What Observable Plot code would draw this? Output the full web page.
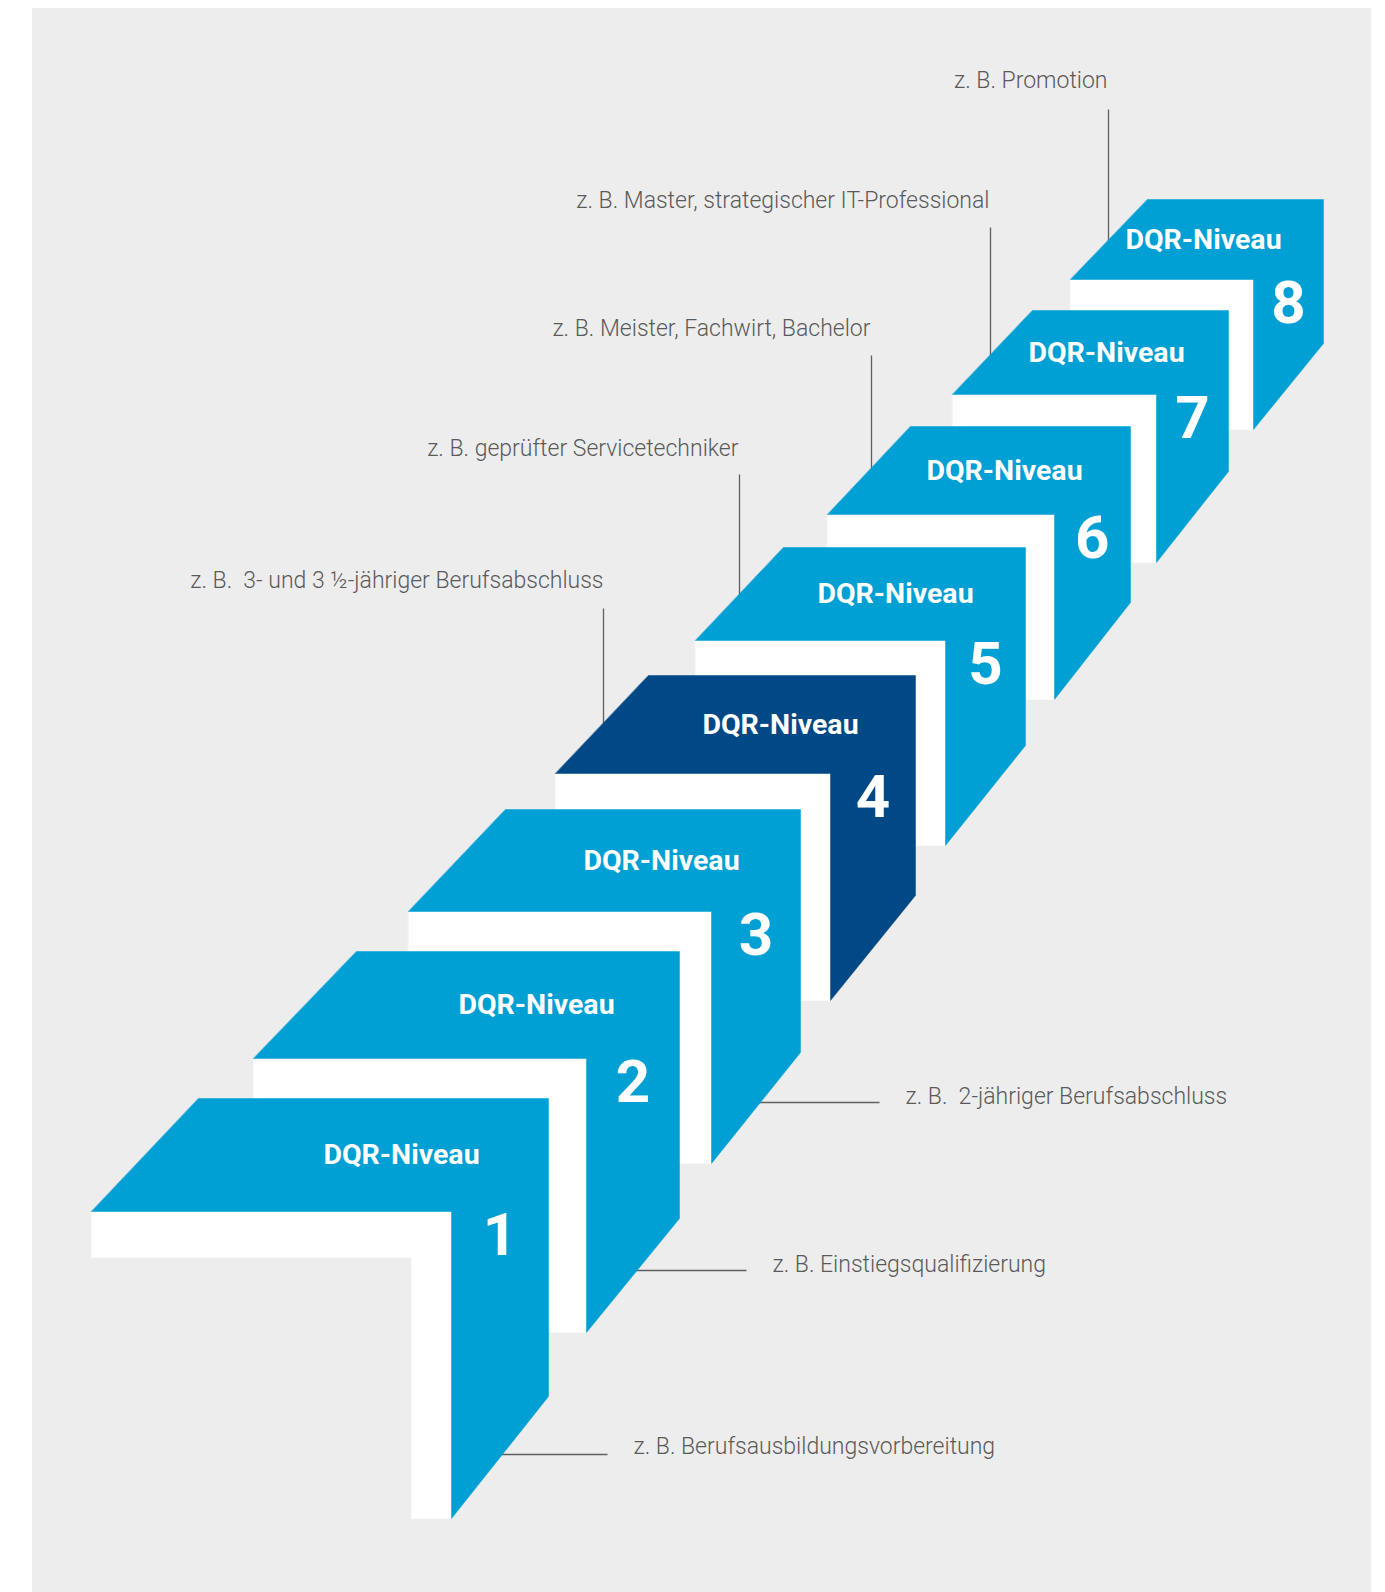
<!DOCTYPE html>
<html>
<head>
<meta charset="utf-8">
<script src="https://cdn.jsdelivr.net/npm/d3@7"></script>
<script src="https://cdn.jsdelivr.net/npm/@observablehq/plot@0.6"></script>
<style>
  html, body { margin: 0; padding: 0; background: #ffffff; }
  #wrap { position: relative; width: 1385px; height: 1592px; overflow: hidden; }
  #bg { position: absolute; left: 32px; top: 8px; width: 1339px; height: 1584px; background: #ededed; }
  #chart { position: absolute; left: 0; top: 0; }
  #chart svg text { white-space: pre; }
</style>
</head>
<body>
<div id="wrap"><div id="bg"></div><div id="chart"></div></div>
<script>
// ---- data: DQR levels (step 1 = front/bottom, step 8 = back/top) ----
const levels     = [1, 2, 3, 4, 5, 6, 7, 8];
const levelTitle = "DQR-Niveau";
// step geometry (pixels)
const xLeft      = [91, 253, 408, 555, 695, 827, 952, 1070];
const xTopLeft   = [198, 356, 505, 648, 783, 910, 1032, 1147];
const xInner     = [451, 586, 711, 830, 945, 1054, 1156, 1253];
const xRight     = [548, 679, 800, 915, 1025, 1130, 1228, 1323];
const yTop       = [1098, 951, 809, 675, 547, 426, 310, 199];
const yFront     = [1211, 1058, 911, 773, 640, 514, 394, 279];
const yCorner    = [1396, 1218, 1052, 895, 745, 602, 471, 343];
const yBottom    = [1518, 1332, 1163, 1000, 845, 699, 562, 429];
const highlight  = 4;

// qualification examples
const qualText = [
  "z. B. Berufsausbildungsvorbereitung",
  "z. B. Einstiegsqualifizierung",
  "z. B.  2-jähriger Berufsabschluss",
  "z. B.  3- und 3 \u00BD-jähriger Berufsabschluss",
  "z. B. geprüfter Servicetechniker",
  "z. B. Meister, Fachwirt, Bachelor",
  "z. B. Master, strategischer IT-Professional",
  "z. B. Promotion"
];
const qualSide   = ["right", "right", "right", "top", "top", "top", "top", "top"];
const qualX      = [633, 772, 905, 603, 738, 870, 989, 1107];
const qualY      = [1446, 1264, 1096, 580, 448, 328, 200, 80];
// leader lines: start point (near label) and end point (under the step)
const leadX1     = [607, 746, 879, 603, 739, 871, 990, 1108];
const leadY1     = [1454, 1270, 1102, 608, 474, 355, 227, 109];
const leadX2     = [490, 620, 740, 603, 739, 871, 990, 1108];
const leadY2     = [1454, 1270, 1102, 728, 598, 473, 360, 245];

// ---- styling ----
const BLUE = "#009fd4", NAVY = "#004886", GREY_TEXT = "#5a5a5a", GREY_LINE = "#5f5f5f";
const bandH = 46, bandW = 40;
const W = 1385, H = 1592;

const leaders = levels.map((lvl, i) => ({lvl, x1: leadX1[i], y1: leadY1[i], x2: leadX2[i], y2: leadY2[i]}));
const labels = levels.map((lvl, i) => ({lvl, text: qualText[i], x: qualX[i], y: qualY[i], side: qualSide[i]}));

function bluePoly(i) {
  return [
    [xTopLeft[i], yTop[i]], [xRight[i], yTop[i]], [xRight[i], yCorner[i]],
    [xInner[i], yBottom[i]], [xInner[i], yFront[i]], [xLeft[i], yFront[i]]
  ].map(([x, y]) => ({x, y}));
}
function whitePoly(i) {
  return [
    [xLeft[i], yFront[i]], [xInner[i], yFront[i]], [xInner[i], yBottom[i]],
    [xInner[i] - bandW, yBottom[i]], [xInner[i] - bandW, yFront[i] + bandH], [xLeft[i], yFront[i] + bandH]
  ].map(([x, y]) => ({x, y}));
}

const stepMarks = [];
for (let i = levels.length - 1; i >= 0; i--) {
  stepMarks.push(Plot.line(whitePoly(i), {x: "x", y: "y", fill: "#ffffff", stroke: "#ffffff", strokeWidth: 0.5, curve: "linear-closed"}));
  stepMarks.push(Plot.line(bluePoly(i), {x: "x", y: "y", fill: levels[i] === highlight ? NAVY : BLUE,
    stroke: levels[i] === highlight ? NAVY : BLUE, strokeWidth: 0.5, curve: "linear-closed"}));
}

const titles = levels.map((lvl, i) => ({lvl, x: xInner[i] - 50, y: (yTop[i] + yFront[i]) / 2}));
const digits = levels.map((lvl, i) => ({lvl, x: (xInner[i] + xRight[i]) / 2, y: yFront[i] + 24}));

const chart = Plot.plot({
  width: W, height: H,
  marginTop: 0, marginRight: 0, marginBottom: 0, marginLeft: 0,
  x: {domain: [0, W], range: [0, W], axis: null},
  y: {domain: [0, H], range: [0, H], axis: null},
  style: {background: "transparent", fontFamily: "Roboto, 'Open Sans', sans-serif"},
  marks: [
    Plot.link(leaders, {x1: "x1", y1: "y1", x2: "x2", y2: "y2", stroke: GREY_LINE, strokeWidth: 1.3}),
    ...stepMarks,
    Plot.text(titles, {x: "x", y: "y", text: () => levelTitle, fill: "#ffffff", fontSize: 28.5, fontWeight: 700, textAnchor: "middle", lineAnchor: "middle"}),
    Plot.text(digits, {x: "x", y: "y", text: "lvl", fill: "#ffffff", fontSize: 60, fontWeight: 700, textAnchor: "middle", lineAnchor: "middle"}),
    Plot.text(labels.filter(d => d.side === "top"), {x: "x", y: "y", text: "text", fill: GREY_TEXT, fontSize: 23, fontWeight: 300, textAnchor: "end", lineAnchor: "middle"}),
    Plot.text(labels.filter(d => d.side === "right"), {x: "x", y: "y", text: "text", fill: GREY_TEXT, fontSize: 23, fontWeight: 300, textAnchor: "start", lineAnchor: "middle"})
  ]
});
document.getElementById("chart").appendChild(chart);
</script>
</body>
</html>
